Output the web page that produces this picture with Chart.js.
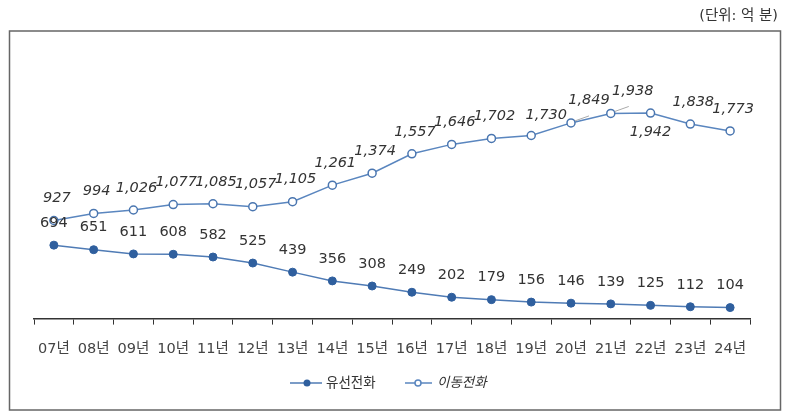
<!DOCTYPE html>
<html>
<head>
<meta charset="utf-8">
<script src="https://cdn.jsdelivr.net/npm/chart.js@4.4.1/dist/chart.umd.min.js"></script>
<style>
html,body{margin:0;padding:0;background:#fff;}
#wrap{position:relative;width:800px;height:420px;}
</style>
</head>
<body>
<div id="wrap"><canvas id="c" width="800" height="420"></canvas></div>
<script>
// ---- data ----
const categories = ['07년','08년','09년','10년','11년','12년','13년','14년','15년','16년','17년','18년','19년','20년','21년','22년','23년','24년'];
const landline = [694,651,611,608,582,525,439,356,308,249,202,179,156,146,139,125,112,104];
const mobile = [927,994,1026,1077,1085,1057,1105,1261,1374,1557,1646,1702,1730,1849,1938,1942,1838,1773];
const seriesNames = ['유선전화','이동전화'];
const unitText = '(단위: 억 분)';

// ---- styles ----
const FONT = "'DejaVu Sans','Noto Sans CJK KR',sans-serif";
const LAND_LINE = '#4f7bb5', LAND_PT = '#2f5f9e';
const MOB_LINE = '#5a86bf', MOB_PT = '#4a76b0';
// label placement tweaks (dx, dy from point; leader line flag)
const mobileLabelTweak = {12:{dx:15,dy:-20},13:{dx:18,dy:-23,leader:true},14:{dx:22,dy:-22,leader:true},15:{dx:0,dy:19}};

const fmt = v => v.toLocaleString('en-US');

const decor = {
  id:'decor',
  afterDraw(chart){
    const ctx = chart.ctx;
    ctx.save();
    // frame
    ctx.strokeStyle = '#666';
    ctx.lineWidth = 1.5;
    ctx.strokeRect(9.5, 31, 771, 379);
    // unit
    ctx.fillStyle = '#333';
    ctx.font = "14.5px " + FONT;
    ctx.textAlign = 'right';
    ctx.textBaseline = 'middle';
    ctx.fillText(unitText, 778, 16);
    // legend
    const ly = 383;
    ctx.lineWidth = 1.5;
    ctx.strokeStyle = LAND_LINE;
    ctx.beginPath(); ctx.moveTo(290, ly); ctx.lineTo(322, ly); ctx.stroke();
    ctx.fillStyle = LAND_PT;
    ctx.beginPath(); ctx.arc(307, ly, 3.5, 0, Math.PI*2); ctx.fill();
    ctx.fillStyle = '#333';
    ctx.textAlign = 'left';
    ctx.font = "13.5px " + FONT;
    ctx.fillText(seriesNames[0], 326, ly);
    ctx.strokeStyle = MOB_LINE;
    ctx.beginPath(); ctx.moveTo(405, ly); ctx.lineTo(432, ly); ctx.stroke();
    ctx.fillStyle = '#fff';
    ctx.beginPath(); ctx.arc(418, ly, 3, 0, Math.PI*2); ctx.fill(); ctx.stroke();
    ctx.fillStyle = '#333';
    ctx.font = "italic 13.5px " + FONT;
    ctx.fillText(seriesNames[1], 437, ly);
    ctx.restore();
  },
  afterDatasetsDraw(chart){
    const ctx = chart.ctx;
    ctx.save();
    ctx.textAlign = 'center';
    ctx.textBaseline = 'middle';
    ctx.fillStyle = '#333';
    // landline labels
    ctx.font = "14.5px " + FONT;
    chart.getDatasetMeta(0).data.forEach((p,i)=>{
      ctx.fillText(fmt(landline[i]), p.x, p.y - 22);
    });
    // mobile labels
    ctx.font = "italic 14.5px " + FONT;
    chart.getDatasetMeta(1).data.forEach((p,i)=>{
      const t = mobileLabelTweak[i] || {dx:3,dy:-22};
      const x = p.x + t.dx, y = p.y + t.dy;
      if (t.leader){
        ctx.strokeStyle = '#aaa';
        ctx.lineWidth = 1;
        ctx.beginPath();
        ctx.moveTo(p.x + 4, p.y - 2);
        ctx.lineTo(p.x + 18, p.y - 7);
        ctx.stroke();
      }
      ctx.fillStyle = '#333';
      ctx.fillText(fmt(mobile[i]), x, y);
    });
    ctx.restore();
  }
};

new Chart(document.getElementById('c'), {
  type:'line',
  data:{
    labels: categories,
    datasets:[
      {label:seriesNames[0], data:landline, borderColor:LAND_LINE, backgroundColor:LAND_PT,
       pointBackgroundColor:LAND_PT, pointBorderColor:LAND_PT, pointRadius:4, pointBorderWidth:1,
       borderWidth:1.5, tension:0},
      {label:seriesNames[1], data:mobile, borderColor:MOB_LINE, backgroundColor:'#fff',
       pointBackgroundColor:'#fff', pointBorderColor:MOB_PT, pointRadius:4, pointBorderWidth:1.5,
       borderWidth:1.5, tension:0}
    ]
  },
  options:{
    responsive:false,
    animation:false,
    layout:{padding:{left:34, right:50, top:54, bottom:46}},
    plugins:{legend:{display:false}, tooltip:{enabled:false}},
    scales:{
      y:{display:false, min:0, max:2500},
      x:{
        offset:true,
        grid:{display:true, drawOnChartArea:false, drawTicks:true, tickLength:6, color:'#333', offset:true},
        border:{display:true, color:'#333', width:1.5},
        ticks:{color:'#444', font:{size:14.5, family:FONT}, padding:16, maxRotation:0, autoSkip:false}
      }
    }
  },
  plugins:[decor]
});
</script>
</body>
</html>
